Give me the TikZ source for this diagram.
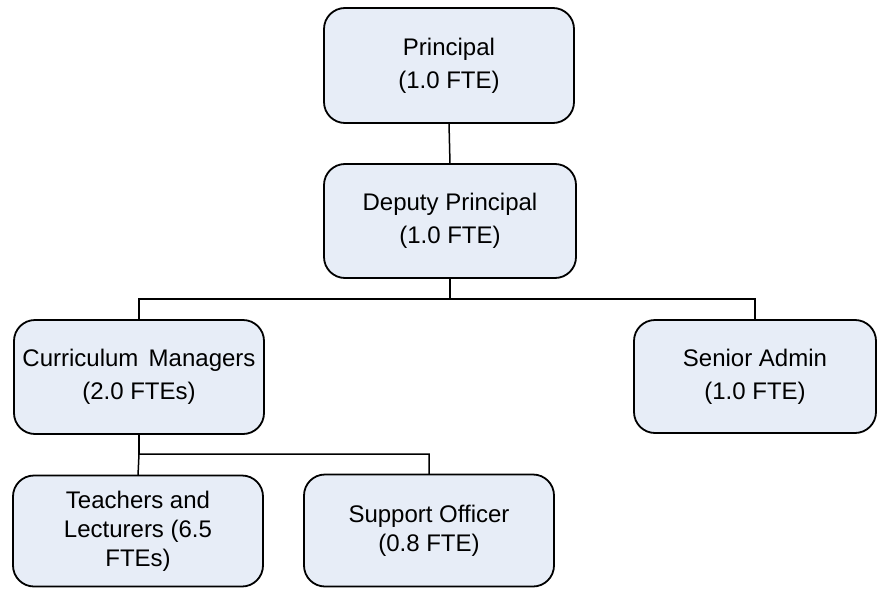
\documentclass[tikz,border=0pt]{standalone}
\usepackage{fontspec}
\setmainfont{Liberation Sans}
\definecolor{boxfill}{RGB}{231,237,247}
\begin{document}
\begin{tikzpicture}[x=1pt,y=1pt,
  orgbox/.style={draw=black, fill=boxfill, line width=1.8pt, rounded corners=21pt,
    rectangle, align=center, inner sep=2pt, outer sep=0pt,
    font=\fontsize{24pt}{33pt}\selectfont},
  lowbox/.style={orgbox, font=\fontsize{24pt}{29pt}\selectfont},
  link/.style={draw=black, line width=1.5pt}]
\useasboundingbox (0,0) rectangle (878,-589);
\node[orgbox, minimum width=250pt, minimum height=115pt] (P) at (449,-65.5) {Principal\\(1.0 FTE)};
\node[orgbox, minimum width=252pt, minimum height=114pt] (D) at (450,-221) {Deputy Principal\\(1.0 FTE)};
\node[orgbox, minimum width=250pt, minimum height=114pt] (C) at (139,-377) {Curriculum\hspace{0.15em} Managers\\(2.0 FTEs)};
\node[orgbox, minimum width=242pt, minimum height=113pt] (S) at (755,-376.5) {Senior Admin\\(1.0 FTE)};
\node[lowbox, minimum width=250pt, minimum height=111pt] (T) at (138,-531) {Teachers and\\Lecturers (6.5\\FTEs)};
\node[lowbox, minimum width=250pt, minimum height=112pt] (O) at (429,-530.5) {Support Officer\\(0.8 FTE)};
\coordinate (b1) at (450,-299);
\coordinate (b2) at (139,-454);
\draw[link] (P.south) -- (D.north);
\draw[link] (D.south) -- (b1);
\draw[link] (C.north) |- (b1) -| (S.north);
\draw[link] (C.south) -- (b2);
\draw[link] (T.north) -- (b2) -| (O.north);
\end{tikzpicture}
\end{document}
